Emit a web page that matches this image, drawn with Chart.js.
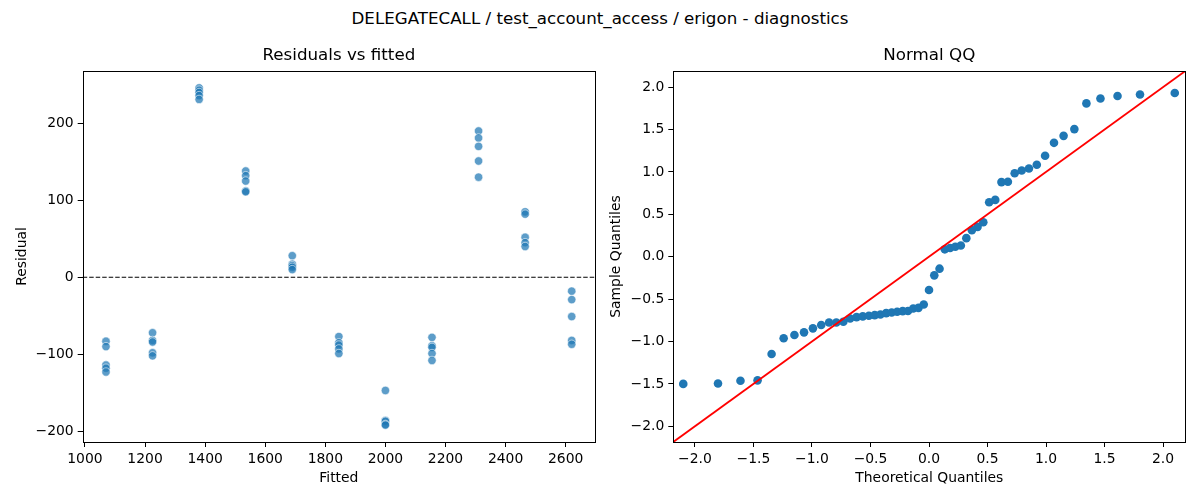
<!DOCTYPE html>
<html>
<head>
<meta charset="utf-8">
<script src="https://cdn.jsdelivr.net/npm/chart.js@4"></script>
<style>
  html, body { margin: 0; padding: 0; background: #fff; }
  #wrap { position: relative; width: 1200px; height: 500px; font-family: "DejaVu Sans", sans-serif; }
  #suptitle { position: absolute; left: 0; top: 8px; width: 1200px; text-align: center; font-size: 16.7px; line-height: 20px; color: #000; }
  canvas { position: absolute; top: 0; }
  #resid { left: 0; }
  #qq { left: 600px; }
</style>
</head>
<body>
<div id="wrap">
  <div id="suptitle">DELEGATECALL / test_account_access / erigon - diagnostics</div>
  <canvas id="resid" width="600" height="500"></canvas>
  <canvas id="qq" width="600" height="500"></canvas>
</div>
<script>
// fitted value of each group (x positions on the left panel)
const fitted = [1070, 1225, 1380, 1535, 1690, 1845, 2000, 2155, 2310, 2465, 2620];

// residuals per fitted group
const residualGroups = [
  [-83, -90, -114, -118, -123],
  [-72, -82, -84, -98, -102],
  [246, 243, 240, 236, 231],
  [138, 132, 125, 112, 111],
  [28, 17, 15, 13, 10],
  [-77, -85, -88, -93, -99],
  [-147, -186, -187, -191, -192],
  [-78, -89, -91, -99, -108],
  [190, 181, 170, 151, 130],
  [85, 82, 52, 45, 40],
  [-18, -29, -51, -82, -87]
];

// normal QQ points
const theoreticalQ = [
  -2.100, -1.803, -1.611, -1.465, -1.345, -1.242, -1.150, -1.068, -0.992, -0.921,
  -0.854, -0.792, -0.732, -0.674, -0.619, -0.566, -0.514, -0.464, -0.415, -0.366,
  -0.319, -0.272, -0.225, -0.180, -0.135, -0.090, -0.045, 0.000, 0.045, 0.090,
  0.135, 0.180, 0.225, 0.272, 0.319, 0.366, 0.415, 0.464, 0.514, 0.566,
  0.619, 0.674, 0.732, 0.792, 0.854, 0.921, 0.992, 1.068, 1.150, 1.242,
  1.345, 1.465, 1.611, 1.803, 2.100
];
const sampleQ = [
  -1.50, -1.495, -1.463, -1.458, -1.148, -0.962, -0.923, -0.892, -0.845, -0.806,
  -0.775, -0.775, -0.767, -0.728, -0.712, -0.704, -0.696, -0.689, -0.681, -0.665,
  -0.657, -0.649, -0.642, -0.640, -0.610, -0.603, -0.563, -0.392, -0.220, -0.141,
  0.087, 0.102, 0.117, 0.133, 0.219, 0.313, 0.352, 0.407, 0.642, 0.670,
  0.880, 0.884, 0.985, 1.017, 1.040, 1.085, 1.190, 1.343, 1.425, 1.505,
  1.808, 1.865, 1.895, 1.912, 1.930
];

// tick labels
const fittedTicks = [1000, 1200, 1400, 1600, 1800, 2000, 2200, 2400, 2600];
const residualTicks = [-200, -100, 0, 100, 200];
const qqTicks = [-2, -1.5, -1, -0.5, 0, 0.5, 1, 1.5, 2];

// axis limits
const fittedRange = [992.5, 2697.5];
const residualRange = [-213.9, 267.9];
const qqRange = [-2.185, 2.19];

const FONT = "'DejaVu Sans', sans-serif";
const BLUE = '#1f77b4';
const minus = s => String(s).replace('-', '\u2212');

Chart.defaults.font.family = FONT;
Chart.defaults.color = '#000';

// panel title centred on the plot area, optional zero line, and the full box (spines)
const frame = {
  id: 'frame',
  afterDatasetsDraw(chart, args, opts) {
    const { ctx, chartArea: a, scales } = chart;
    ctx.save();
    if (opts.zeroLine) {
      const y = scales.y.getPixelForValue(0);
      ctx.strokeStyle = '#000';
      ctx.lineWidth = 1.1;
      ctx.setLineDash([4.5, 2]);
      ctx.beginPath();
      ctx.moveTo(a.left, y);
      ctx.lineTo(a.right, y);
      ctx.stroke();
      ctx.setLineDash([]);
    }
    ctx.strokeStyle = '#000';
    ctx.lineWidth = 1;
    ctx.strokeRect(Math.round(a.left) + 0.5, Math.round(a.top) + 0.5,
      Math.round(a.right - a.left), Math.round(a.bottom - a.top));

    ctx.fillStyle = '#000';
    ctx.font = '16.7px ' + FONT;
    ctx.textAlign = 'center';
    ctx.textBaseline = 'middle';
    ctx.fillText(opts.title, (a.left + a.right) / 2, 56);
    ctx.restore();
  }
};

function axis(min, max, ticks, fmt, title, titlePad, size, isX) {
  return {
    type: 'linear',
    position: isX ? 'bottom' : 'left',
    min: min,
    max: max,
    afterBuildTicks: s => { s.ticks = ticks.map(v => ({ value: v })); },
    afterFit: s => { if (isX) s.height = size; else s.width = size; },
    border: { display: false },
    grid: { drawOnChartArea: false, drawTicks: true, tickLength: 5, color: '#000', lineWidth: 1 },
    ticks: { font: { size: 13.9 }, color: '#000', padding: 4, callback: fmt, maxRotation: 0, autoSkip: false },
    title: {
      display: true, text: title, font: { size: 13.9 }, color: '#000',
      padding: isX ? { top: 0, bottom: titlePad } : { top: titlePad, bottom: 0 }
    }
  };
}

// left: residuals vs fitted
const residPoints = [];
fitted.forEach((f, i) => {
  residualGroups[i].forEach(r => residPoints.push({ x: f, y: r }));
});

new Chart(document.getElementById('resid'), {
  type: 'scatter',
  data: {
    datasets: [{
      data: residPoints,
      backgroundColor: 'rgba(31,119,180,0.72)',
      borderColor: 'rgba(255,255,255,0.7)',
      borderWidth: 0.8,
      pointRadius: 4.2,
      pointHoverRadius: 4.2
    }]
  },
  options: {
    responsive: false,
    animation: false,
    layout: { padding: { top: 71, right: 5, bottom: 0, left: 0 } },
    plugins: {
      legend: { display: false },
      tooltip: { enabled: false },
      title: { display: false },
      frame: { zeroLine: true, title: 'Residuals vs fitted' }
    },
    scales: {
      x: axis(fittedRange[0], fittedRange[1], fittedTicks, v => String(v), 'Fitted', 13.7, 58, true),
      y: axis(residualRange[0], residualRange[1], residualTicks, v => minus(v), 'Residual', 13.7, 82.7, false)
    }
  },
  plugins: [frame]
});

// right: normal QQ
const qqPoints = theoreticalQ.map((t, i) => ({ x: t, y: sampleQ[i] }));

new Chart(document.getElementById('qq'), {
  type: 'scatter',
  data: {
    datasets: [{
      data: qqPoints,
      backgroundColor: BLUE,
      borderColor: BLUE,
      borderWidth: 0,
      pointRadius: 4.3,
      pointHoverRadius: 4.3,
      order: 1
    }, {
      type: 'line',
      data: [{ x: qqRange[0], y: qqRange[0] }, { x: qqRange[1], y: qqRange[1] }],
      borderColor: '#ff0000',
      borderWidth: 1.8,
      pointRadius: 0,
      order: 0
    }]
  },
  options: {
    responsive: false,
    animation: false,
    layout: { padding: { top: 71, right: 14.7, bottom: 0, left: 0 } },
    plugins: {
      legend: { display: false },
      tooltip: { enabled: false },
      title: { display: false },
      frame: { zeroLine: false, title: 'Normal QQ' }
    },
    scales: {
      x: axis(qqRange[0], qqRange[1], qqTicks, v => minus(v.toFixed(1)), 'Theoretical Quantiles', 13.7, 58, true),
      y: axis(qqRange[0], qqRange[1], qqTicks, v => minus(v.toFixed(1)), 'Sample Quantiles', 7.7, 73.3, false)
    }
  },
  plugins: [frame]
});
</script>
</body>
</html>
